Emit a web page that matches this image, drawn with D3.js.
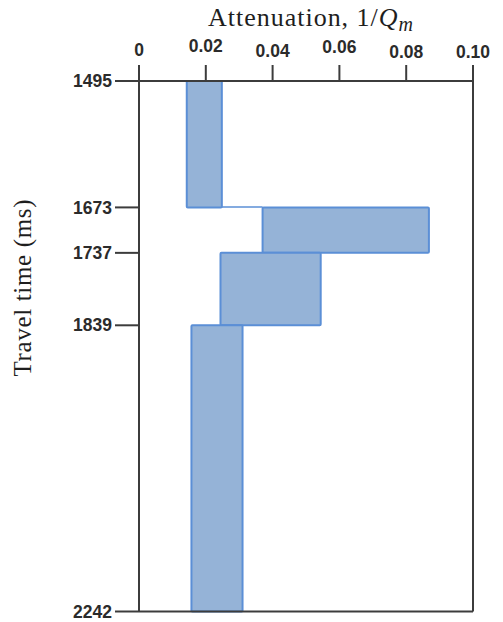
<!DOCTYPE html>
<html>
<head>
<meta charset="utf-8">
<script src="https://cdn.jsdelivr.net/npm/d3@7"></script>
<style>
  body { margin: 0; background: #fff; }
  .tick-label { font-family: "Liberation Sans", Arial, sans-serif; font-weight: bold; font-size: 17.5px; fill: #2b2b2b; }
  .serif { font-family: "Liberation Serif", "Times New Roman", serif; fill: #1e1e1e; }
</style>
</head>
<body>
<script>
// travel-time layer boundaries (ms)
let timeTicks = [1495, 1673, 1737, 1839, 2242];
// attenuation ticks
let attTicks = [0, 0.02, 0.04, 0.06, 0.08, 0.10];
let attTickLabels = ['0', '0.02', '0.04', '0.06', '0.08', '0.10'];

// each layer: top time, bottom time, min and max attenuation
let layerTop = [1495, 1673, 1737, 1839];
let layerBottom = [1673, 1737, 1839, 2242];
let attMin = [0.0143, 0.0370, 0.0244, 0.0157];
let attMax = [0.0248, 0.0868, 0.0544, 0.0310];

let width = 503,
    height = 622;
let margin = {top: 81, right: 30, bottom: 10, left: 139};

let svg = d3.select('body').append('svg')
    .attr('width', width)
    .attr('height', height);

let x = d3.scaleLinear()
    .domain([0, 0.10])
    .range([margin.left, 473]);

let y = d3.scaleLinear()
    .domain([1495, 2242])
    .range([margin.top, 611.5]);

let axisColor = '#3c3c3c';

// bars
let layers = layerTop.map((t, i) => ({top: t, bottom: layerBottom[i], lo: attMin[i], hi: attMax[i]}));

// thin connector between first two layers
svg.append('line')
    .attr('x1', x(attMax[0]))
    .attr('x2', x(attMin[1]))
    .attr('y1', y(layerBottom[0]) - 0.5)
    .attr('y2', y(layerBottom[0]) - 0.5)
    .style('stroke', '#5b8fd6')
    .style('stroke-width', 1.5);

svg.selectAll('.layer')
    .data(layers)
    .enter()
    .append('rect')
    .classed('layer', true)
    .attr('x', d => x(d.lo))
    .attr('y', d => y(d.top))
    .attr('width', d => x(d.hi) - x(d.lo))
    .attr('height', d => y(d.bottom) - y(d.top))
    .attr('rx', 1)
    .style('fill', '#95b3d7')
    .style('stroke', '#5b8fd6')
    .style('stroke-width', 2);

// frame
let g = svg.append('g')
    .style('stroke', axisColor)
    .style('stroke-width', 2)
    .style('fill', 'none');

g.append('line')  // top
    .attr('x1', margin.left).attr('x2', x(0.10))
    .attr('y1', y(1495)).attr('y2', y(1495));
g.append('line')  // bottom
    .attr('x1', margin.left).attr('x2', x(0.10))
    .attr('y1', y(2242)).attr('y2', y(2242));
g.append('line')  // left
    .attr('x1', x(0)).attr('x2', x(0))
    .attr('y1', 65).attr('y2', y(2242));
g.append('line')  // right
    .attr('x1', x(0.10)).attr('x2', x(0.10))
    .attr('y1', 65).attr('y2', y(2242));

// top axis ticks
g.selectAll('.xtick')
    .data(attTicks)
    .enter()
    .append('line')
    .attr('x1', d => x(d)).attr('x2', d => x(d))
    .attr('y1', 65).attr('y2', y(1495));

// left axis ticks
g.selectAll('.ytick')
    .data(timeTicks)
    .enter()
    .append('line')
    .attr('x1', 115).attr('x2', margin.left)
    .attr('y1', d => y(d)).attr('y2', d => y(d));

// labels are slightly staggered in the original
let xLabelDy = [0, -4, 1, -3, 2, 2];
svg.selectAll('.xlab')
    .data(attTicks)
    .enter()
    .append('text')
    .attr('class', 'tick-label')
    .attr('x', d => x(d))
    .attr('y', (d, i) => 56 + xLabelDy[i])
    .attr('text-anchor', 'middle')
    .text((d, i) => attTickLabels[i]);

svg.selectAll('.ylab')
    .data(timeTicks)
    .enter()
    .append('text')
    .attr('class', 'tick-label')
    .attr('x', 112)
    .attr('y', d => y(d))
    .attr('dy', '0.35em')
    .attr('text-anchor', 'end')
    .text(d => d);

// titles
let title = svg.append('text')
    .attr('class', 'serif')
    .attr('x', 208)
    .attr('y', 26)
    .attr('textLength', 205)
    .attr('lengthAdjust', 'spacing')
    .style('font-size', '26px');
title.append('tspan').text('Attenuation, 1/');
title.append('tspan').style('font-style', 'italic').text('Q');
title.append('tspan').style('font-style', 'italic').style('font-size', '20px').attr('dy', 5).text('m');

svg.append('text')
    .attr('class', 'serif')
    .attr('transform', 'translate(31,288) rotate(-90)')
    .attr('text-anchor', 'middle')
    .style('font-size', '25px')
    .attr('textLength', 177)
    .attr('lengthAdjust', 'spacing')
    .text('Travel time (ms)');
</script>
</body>
</html>
